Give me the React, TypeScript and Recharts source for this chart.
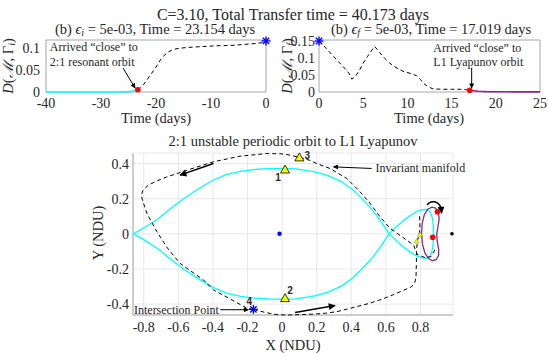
import React from 'react';
import { ComposedChart, Scatter, XAxis, YAxis, CartesianGrid, ReferenceArea } from 'recharts';

const FONT = '"Liberation Serif", "Times New Roman", serif';
const TXT = '#262626';

// ---------- top-left panel: distance to 2:1 resonant orbit ----------
const leftTicksX = [-40, -30, -20, -10, 0];
const leftTicksY = [0, 0.05, 0.1];
const leftCyanTime = [-40, -35, -30, -27, -26, -25, -24.5, -24, -23.6, -23.3];
const leftCyanDist = [0, 0, 0, 0, 0.0003, 0.0008, 0.0015, 0.0025, 0.0035, 0.005];
const leftDashTime = [-23.3, -22.8, -22.3, -21.6, -20.8, -20, -19.3, -18.7, -17.8, -17, -16, -14.5, -12, -9, -6, -4, -2, 0];
const leftDashDist = [0.005, 0.01, 0.016, 0.028, 0.042, 0.056, 0.07, 0.08, 0.09, 0.095, 0.098, 0.1, 0.102, 0.104, 0.105, 0.107, 0.109, 0.112];
const leftStart = [{ x: 0, y: 0.115 }];
const leftArrival = [{ x: -23.3, y: 0.005 }];
const leftNote = [
  { x: -39.3, y: 0.101, text: 'Arrived \u201cclose\u201d to' },
  { x: -39.3, y: 0.067, text: '2:1 resonant orbit' },
];
const leftArrowTime = [-26.0, -23.8];
const leftArrowDist = [0.054, 0.009];

// ---------- top-right panel: distance to L1 Lyapunov orbit ----------
const rightTicksX = [0, 5, 10, 15, 20, 25];
const rightTicksY = [0, 0.05, 0.1, 0.15];
const rightDashTime = [0, 0.5, 1, 1.5, 2, 2.5, 3, 3.4, 3.7, 4.1, 4.6, 5, 5.5, 6, 6.3, 6.9, 7.4, 8, 8.7, 9.5, 10.3, 11.05, 11.5, 11.8, 12.3, 12.9, 14, 15, 16, 16.6, 17.05];
const rightDashDist = [0.15, 0.137, 0.123, 0.109, 0.095, 0.081, 0.067, 0.055, 0.038, 0.045, 0.065, 0.085, 0.105, 0.124, 0.134, 0.115, 0.1, 0.085, 0.072, 0.061, 0.055, 0.048, 0.036, 0.026, 0.016, 0.009, 0.008, 0.008, 0.008, 0.007, 0.005];
const rightPurpleTime = [17.05, 18, 19, 20, 22, 25];
const rightPurpleDist = [0.005, 0.002, 0.001, 0.0008, 0.0005, 0.0005];
const rightStart = [{ x: 0, y: 0.15 }];
const rightArrival = [{ x: 17.05, y: 0.005 }];
const rightNote = [
  { x: 12.93, y: 0.13, text: 'Arrived \u201cclose\u201d to' },
  { x: 12.93, y: 0.089, text: 'L1 Lyapunov orbit' },
];
const rightArrowTime = [17.27, 17.27];
const rightArrowDist = [0.071, 0.012];

// ---------- bottom panel: trajectory in rotating frame ----------
const orbitTicksX = [-0.8, -0.6, -0.4, -0.2, 0, 0.2, 0.4, 0.6, 0.8];
const orbitTicksY = [-0.4, -0.2, 0, 0.2, 0.4];
const resonantX = [-0.86, -0.8, -0.72, -0.65, -0.57, -0.48, -0.4, -0.32, -0.24, -0.16, -0.08, 0, 0.08, 0.19, 0.27, 0.345, 0.41, 0.47, 0.52, 0.566, 0.618, 0.66, 0.7, 0.74, 0.778, 0.81, 0.836, 0.855, 0.867, 0.874, 0.876, 0.874, 0.867, 0.855, 0.836, 0.81, 0.778, 0.74, 0.7, 0.66, 0.618, 0.566, 0.52, 0.47, 0.41, 0.345, 0.27, 0.19, 0.08, 0, -0.08, -0.16, -0.24, -0.32, -0.4, -0.48, -0.57, -0.65, -0.72, -0.8, -0.86];
const resonantY = [0, 0.033, 0.083, 0.14, 0.2, 0.258, 0.305, 0.338, 0.356, 0.366, 0.371, 0.372, 0.37, 0.353, 0.33, 0.296, 0.25, 0.192, 0.138, 0.078, 0, -0.04, -0.073, -0.104, -0.126, -0.137, -0.139, -0.127, -0.098, -0.052, 0, 0.052, 0.098, 0.127, 0.139, 0.137, 0.126, 0.104, 0.073, 0.04, 0, -0.078, -0.138, -0.192, -0.25, -0.296, -0.33, -0.353, -0.37, -0.372, -0.371, -0.366, -0.356, -0.338, -0.305, -0.258, -0.2, -0.14, -0.083, -0.033, 0];
const lyapunovX = [0.806, 0.81, 0.822, 0.842, 0.866, 0.888, 0.903, 0.908, 0.902, 0.894, 0.897, 0.905, 0.905, 0.892, 0.87, 0.847, 0.826, 0.812, 0.806];
const lyapunovY = [0, 0.06, 0.108, 0.14, 0.152, 0.146, 0.122, 0.085, 0.045, 0, -0.045, -0.085, -0.122, -0.146, -0.153, -0.141, -0.11, -0.06, 0];
const manifoldAX = [0.795, 0.797, 0.792, 0.782, 0.777, 0.776, 0.774, 0.765, 0.745, 0.7, 0.64, 0.566, 0.5, 0.432, 0.37, 0.316, 0.25, 0.181, 0.1, 0.03, -0.03, -0.1, -0.166];
const manifoldAY = [0.1, 0.03, -0.003, -0.041, -0.1, -0.18, -0.25, -0.285, -0.303, -0.322, -0.348, -0.376, -0.397, -0.414, -0.43, -0.443, -0.452, -0.457, -0.46, -0.462, -0.46, -0.447, -0.43];
const manifoldBX = [-0.166, -0.204, -0.3, -0.397, -0.455, -0.53, -0.59, -0.66, -0.724, -0.782, -0.81, -0.812, -0.806, -0.79, -0.773, -0.72, -0.666, -0.55, -0.397, -0.243, -0.088, 0, 0.046, 0.1, 0.162, 0.2, 0.277, 0.374, 0.45, 0.509, 0.566, 0.624, 0.692, 0.76, 0.78, 0.827, 0.86, 0.885];
const manifoldBY = [-0.43, -0.423, -0.371, -0.319, -0.262, -0.21, -0.168, -0.085, 0.012, 0.117, 0.2, 0.225, 0.245, 0.262, 0.277, 0.303, 0.324, 0.362, 0.41, 0.442, 0.457, 0.455, 0.448, 0.435, 0.418, 0.4, 0.372, 0.315, 0.24, 0.173, 0.097, 0.031, -0.016, -0.064, -0.116, -0.136, -0.13, -0.09];
const topArrowX = [-0.397, -0.59];
const topArrowY = [0.4, 0.334];
const bottomArrowX = [0.075, 0.306];
const bottomArrowY = [-0.448, -0.408];
const manifoldLabelArrowX = [0.518, 0.297];
const manifoldLabelArrowY = [0.372, 0.381];
const intersectArrowX = [-0.358, -0.195];
const intersectArrowY = [-0.432, -0.432];
const spinArrowX = [0.838, 0.85, 0.866, 0.884, 0.9, 0.913, 0.92, 0.922];
const spinArrowY = [0.165, 0.176, 0.182, 0.182, 0.175, 0.16, 0.14, 0.118];
const bigTriangles = [
  { x: 0.017, y: 0.366, label: '1' },
  { x: 0.017, y: -0.366, label: '2' },
  { x: 0.1, y: 0.435, label: '3' },
];
const smallTriangles = [{ x: 0.798, y: -0.003 }, { x: 0.778, y: -0.041 }];
const redPoints = [{ x: 0.898, y: 0.126 }, { x: 0.871, y: -0.02 }];
const earth = [{ x: -0.015, y: 0 }];
const moon = [{ x: 0.982, y: 0 }];
const intersection = [{ x: -0.166, y: -0.43, label: '4' }];
const orbitNotes = [
  { x: 0.54, y: 0.372, text: 'Invariant manifold', anchor: 'start' },
  { x: -0.365, y: -0.432, text: 'Intersection Point', anchor: 'end' },
];

// label offsets (pixels) for numbered markers
const numberOffset: Record<string, [number, number]> = {
  '1': [-7, 8],
  '2': [5, -8],
  '3': [8, -2],
  '4': [-4, -8],
};

const pts = (xs: number[], ys: number[]) => xs.map((x, i) => ({ x, y: ys[i] }));

const Hidden = () => <g />;

const TICK_SIZE = 14;
const XTick = (p: any) => (
  <text x={p.x} y={p.y} dy="0.71em" textAnchor="middle" fontSize={TICK_SIZE} fontFamily={FONT} fill={TXT}>
    {p.payload.value}
  </text>
);
const YTick = (p: any) => (
  <text x={p.x} y={p.y} dy="0.355em" textAnchor="end" fontSize={TICK_SIZE} fontFamily={FONT} fill={TXT}>
    {p.payload.value}
  </text>
);

const Asterisk = (p: any) => {
  const r = 4.5;
  const { cx, cy } = p;
  const d = r * 0.7071;
  return (
    <g stroke="#0000ff" strokeWidth={1.4}>
      <line x1={cx - r} y1={cy} x2={cx + r} y2={cy} />
      <line x1={cx} y1={cy - r} x2={cx} y2={cy + r} />
      <line x1={cx - d} y1={cy - d} x2={cx + d} y2={cy + d} />
      <line x1={cx - d} y1={cy + d} x2={cx + d} y2={cy - d} />
    </g>
  );
};

const AsteriskLabeled = (p: any) => {
  const off = numberOffset[p.payload.label] || [0, 0];
  return (
    <g>
      <Asterisk {...p} />
      <text x={p.cx + off[0]} y={p.cy + off[1]} fontSize={10} fontWeight="bold" fontFamily="Liberation Sans, Arial, sans-serif" fill={TXT} textAnchor="middle" dominantBaseline="central">
        {p.payload.label}
      </text>
    </g>
  );
};

const RedDot = (p: any) => <circle cx={p.cx} cy={p.cy} r={2.8} fill="#ff0000" />;
const BlueDot = (p: any) => <circle cx={p.cx} cy={p.cy} r={2.2} fill="#0000ff" />;
const BlackDot = (p: any) => <circle cx={p.cx} cy={p.cy} r={1.8} fill="#000" />;

const BigTriangle = (p: any) => {
  const { cx, cy } = p;
  const off = numberOffset[p.payload.label] || [0, 0];
  return (
    <g>
      <polygon points={`${cx - 4.5},${cy + 3.5} ${cx + 4.5},${cy + 3.5} ${cx},${cy - 4.5}`} fill="#ffff00" stroke="#000" strokeWidth={0.8} />
      <text x={cx + off[0]} y={cy + off[1]} fontSize={10} fontWeight="bold" fontFamily="Liberation Sans, Arial, sans-serif" fill={TXT} textAnchor="middle" dominantBaseline="central">
        {p.payload.label}
      </text>
    </g>
  );
};

const SmallTriangle = (p: any) => {
  const { cx, cy } = p;
  return <polygon points={`${cx - 2.5},${cy + 2} ${cx + 2.5},${cy + 2} ${cx},${cy - 2.5}`} fill="#ffff00" stroke="#8a8a00" strokeWidth={0.5} />;
};

const NoteText = (p: any) => (
  <text x={p.cx} y={p.cy} fontSize={12} fontFamily={FONT} fill={TXT} textAnchor={p.payload.anchor || 'start'} dominantBaseline="central">
    {p.payload.text}
  </text>
);

const dashLine = { stroke: '#000', strokeWidth: 1, strokeDasharray: '4 3' };
const arrowLine = { stroke: '#000', strokeWidth: 1, markerEnd: 'url(#arrowHead)' };
const arrowLineBold = { stroke: '#000', strokeWidth: 1.5, markerEnd: 'url(#arrowHeadBig)' };

const AxisTitleY = ({ x, y, sub }: { x: number; y: number; sub: string }) => (
  <text x={x} y={y} transform={`rotate(-90 ${x} ${y})`} textAnchor="middle" dominantBaseline="central" fontSize={14.5} fontFamily={FONT} fill={TXT}>
    <tspan fontStyle="italic">D</tspan>(<tspan fontStyle="italic">{'\u2133'}</tspan>, {'\u0393'}
    <tspan fontStyle="italic" fontSize={10} dy={3}>{sub}</tspan>
    <tspan dy={-3}>)</tspan>
  </text>
);

const SubTitle = ({ x, y, sub, time }: { x: number; y: number; sub: string; time: string }) => (
  <text x={x} y={y} textAnchor="middle" dominantBaseline="central" fontSize={14.5} fontFamily={FONT} fill={TXT}>
    (b) <tspan fontStyle="italic">{'\u03f5'}</tspan>
    <tspan fontStyle="italic" fontSize={10} dy={3}>{sub}</tspan>
    <tspan dy={-3}> = 5e-03, Time = {time} days</tspan>
  </text>
);

export default function App() {
  return (
    <div style={{ position: 'absolute', left: 0, top: 0, width: 548, height: 353, background: '#fff', overflow: 'hidden', fontFamily: FONT }}>
      <svg width={0} height={0} style={{ position: 'absolute' }}>
        <defs>
          <marker id="arrowHead" viewBox="0 0 10 10" refX="9" refY="5" markerWidth="7" markerHeight="5" markerUnits="userSpaceOnUse" orient="auto">
            <path d="M0,0 L10,5 L0,10 z" fill="#000" />
          </marker>
          <marker id="arrowHeadBig" viewBox="0 0 10 10" refX="9" refY="5" markerWidth="9" markerHeight="7" markerUnits="userSpaceOnUse" orient="auto">
            <path d="M0,0 L10,5 L0,10 z" fill="#000" />
          </marker>
        </defs>
      </svg>

      {/* top-left */}
      <div style={{ position: 'absolute', left: 0, top: 30 }}>
        <ComposedChart width={280} height={82} margin={{ top: 10, right: 14, bottom: 0, left: 0 }} style={{ fontFamily: FONT }}>
          <XAxis type="number" dataKey="x" domain={[-40, 0]} ticks={leftTicksX} axisLine={false} tickLine={false} tickSize={0} tickMargin={6} height={20} tick={XTick} interval={0} />
          <YAxis type="number" dataKey="y" domain={[0, 0.117]} ticks={leftTicksY} axisLine={false} tickLine={false} tickSize={0} tickMargin={6} width={46} tick={YTick} interval={0} />
          <ReferenceArea x1={-40} x2={0} y1={0} y2={0.117} fill="none" stroke="#a6a6a6" strokeWidth={1} />
          <Scatter data={pts(leftCyanTime, leftCyanDist)} line={{ stroke: '#00ffff', strokeWidth: 1.6 }} shape={Hidden} isAnimationActive={false} />
          <Scatter data={pts(leftDashTime, leftDashDist)} line={dashLine} shape={Hidden} isAnimationActive={false} />
          <Scatter data={pts(leftArrowTime, leftArrowDist)} line={arrowLine} shape={Hidden} isAnimationActive={false} />
          <Scatter data={leftArrival} shape={RedDot} isAnimationActive={false} />
          <Scatter data={leftStart} shape={Asterisk} isAnimationActive={false} />
          <Scatter data={leftNote} shape={NoteText} isAnimationActive={false} />
        </ComposedChart>
      </div>

      {/* top-right */}
      <div style={{ position: 'absolute', left: 273, top: 30 }}>
        <ComposedChart width={275} height={82} margin={{ top: 10, right: 8, bottom: 0, left: 0 }} style={{ fontFamily: FONT }}>
          <XAxis type="number" dataKey="x" domain={[0, 25]} ticks={rightTicksX} axisLine={false} tickLine={false} tickSize={0} tickMargin={6} height={20} tick={XTick} interval={0} />
          <YAxis type="number" dataKey="y" domain={[0, 0.153]} ticks={rightTicksY} axisLine={false} tickLine={false} tickSize={0} tickMargin={4} width={46} tick={YTick} interval={0} />
          <ReferenceArea x1={0} x2={25} y1={0} y2={0.153} fill="none" stroke="#a6a6a6" strokeWidth={1} />
          <Scatter data={pts(rightPurpleTime, rightPurpleDist)} line={{ stroke: '#7e2f8e', strokeWidth: 1.6 }} shape={Hidden} isAnimationActive={false} />
          <Scatter data={pts(rightDashTime, rightDashDist)} line={dashLine} shape={Hidden} isAnimationActive={false} />
          <Scatter data={pts(rightArrowTime, rightArrowDist)} line={arrowLine} shape={Hidden} isAnimationActive={false} />
          <Scatter data={rightArrival} shape={RedDot} isAnimationActive={false} />
          <Scatter data={rightStart} shape={Asterisk} isAnimationActive={false} />
          <Scatter data={rightNote} shape={NoteText} isAnimationActive={false} />
        </ComposedChart>
      </div>

      {/* bottom */}
      <div style={{ position: 'absolute', left: 0, top: 140 }}>
        <ComposedChart width={548} height={200} margin={{ top: 13, right: 95, bottom: 5, left: 0 }} style={{ fontFamily: FONT }}>
          <CartesianGrid stroke="#e8e8e8" />
          <XAxis type="number" dataKey="x" domain={[-0.862, 0.988]} ticks={orbitTicksX} axisLine={{ stroke: '#a6a6a6' }} tickLine={false} tickSize={0} tickMargin={7} height={20} tick={XTick} interval={0} />
          <YAxis type="number" dataKey="y" domain={[-0.462, 0.46]} ticks={orbitTicksY} axisLine={{ stroke: '#a6a6a6' }} tickLine={false} tickSize={0} tickMargin={4} width={133} tick={YTick} interval={0} />
          <Scatter data={pts(resonantX, resonantY)} line={{ stroke: '#00ffff', strokeWidth: 1.3 }} shape={Hidden} isAnimationActive={false} />
          <Scatter data={pts(lyapunovX, lyapunovY)} line={{ stroke: '#7e2f8e', strokeWidth: 1.3 }} shape={Hidden} isAnimationActive={false} />
          <Scatter data={pts(manifoldAX, manifoldAY)} line={dashLine} shape={Hidden} isAnimationActive={false} />
          <Scatter data={pts(manifoldBX, manifoldBY)} line={dashLine} shape={Hidden} isAnimationActive={false} />
          <Scatter data={pts(topArrowX, topArrowY)} line={arrowLineBold} shape={Hidden} isAnimationActive={false} />
          <Scatter data={pts(bottomArrowX, bottomArrowY)} line={arrowLineBold} shape={Hidden} isAnimationActive={false} />
          <Scatter data={pts(spinArrowX, spinArrowY)} line={arrowLineBold} shape={Hidden} isAnimationActive={false} />
          <Scatter data={pts(manifoldLabelArrowX, manifoldLabelArrowY)} line={arrowLine} shape={Hidden} isAnimationActive={false} />
          <Scatter data={pts(intersectArrowX, intersectArrowY)} line={arrowLine} shape={Hidden} isAnimationActive={false} />
          <Scatter data={earth} shape={BlueDot} isAnimationActive={false} />
          <Scatter data={moon} shape={BlackDot} isAnimationActive={false} />
          <Scatter data={smallTriangles} shape={SmallTriangle} isAnimationActive={false} />
          <Scatter data={redPoints} shape={RedDot} isAnimationActive={false} />
          <Scatter data={bigTriangles} shape={BigTriangle} isAnimationActive={false} />
          <Scatter data={intersection} shape={AsteriskLabeled} isAnimationActive={false} />
          <Scatter data={orbitNotes} shape={NoteText} isAnimationActive={false} />
        </ComposedChart>
      </div>

      {/* titles and axis titles */}
      <svg width={548} height={353} style={{ position: 'absolute', left: 0, top: 0, pointerEvents: 'none' }}>
        <text x={293} y={14} textAnchor="middle" dominantBaseline="central" fontSize={16} fontFamily={FONT} fill={TXT}>
          C=3.10, Total Transfer time = 40.173 days
        </text>
        <SubTitle x={155} y={29} sub="i" time="23.154" />
        <SubTitle x={431} y={29} sub="f" time="17.019" />
        <AxisTitleY x={8} y={66} sub="i" />
        <AxisTitleY x={287} y={66} sub="f" />
        <text x={156} y={118} textAnchor="middle" dominantBaseline="central" fontSize={14.5} fontFamily={FONT} fill={TXT}>Time (days)</text>
        <text x={429} y={118} textAnchor="middle" dominantBaseline="central" fontSize={14.5} fontFamily={FONT} fill={TXT}>Time (days)</text>
        <text x={293} y={141} textAnchor="middle" dominantBaseline="central" fontSize={14.5} fontFamily={FONT} fill={TXT}>2:1 unstable periodic orbit to L1 Lyapunov</text>
        <text x={98} y={233} transform="rotate(-90 98 233)" textAnchor="middle" dominantBaseline="central" fontSize={14.5} fontFamily={FONT} fill={TXT}>Y (NDU)</text>
        <text x={293} y={345} textAnchor="middle" dominantBaseline="central" fontSize={14.5} fontFamily={FONT} fill={TXT}>X (NDU)</text>
      </svg>
    </div>
  );
}
